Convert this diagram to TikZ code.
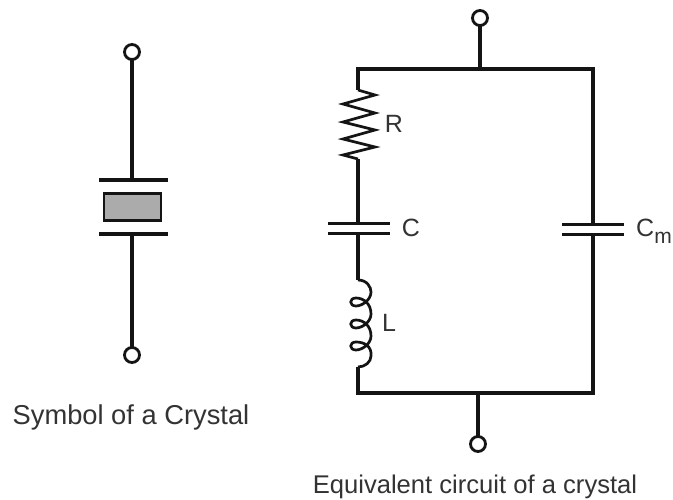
\documentclass[tikz,border=0pt]{standalone}
\usepackage{fontspec}
\setmainfont{Liberation Sans}
\definecolor{ink}{HTML}{141414}
\definecolor{lab}{HTML}{333333}
\tikzset{
  wire/.style={draw=ink,line width=3.2pt},
  thin wire/.style={draw=ink,line width=2.7pt,line join=miter},
  plate/.style={draw=ink,line width=3.4pt},
  term/.style={circle,draw=ink,fill=white,line width=2.8pt,minimum size=15pt,inner sep=0pt,outer sep=0pt},
  lbl/.style={text=lab,font=\fontsize{25}{28}\selectfont,inner sep=0pt},
  captionA/.style={text=lab,font=\fontsize{27.3}{30}\selectfont,inner sep=0pt},
  captionB/.style={text=lab,font=\fontsize{25.6}{30}\selectfont,inner sep=0pt}
}
\begin{document}
\begin{tikzpicture}[x=1pt,y=-1pt]
\useasboundingbox (0,0) rectangle (673,500);
\fill[white] (0,0) rectangle (673,500);
% crystal symbol
\node[term] (t1) at (132,52) {};
\node[term] (t2) at (132,355) {};
\coordinate (p1) at (132,180);
\coordinate (p2) at (132,234);
\draw[wire] (t1) -- (p1);
\draw[wire] (p2) -- (t2);
\draw[plate] (99,180) -- (168,180);
\draw[plate] (99,234) -- (168,234);
\node[draw=ink,fill=black!33,line width=2.6pt,minimum width=57pt,minimum height=27.5pt,inner sep=0pt,outer sep=0pt] (xtal) at (132.5,207) {};
\node[captionA] (cap1) at (131,417) {Symbol of a Crystal};
% equivalent circuit
\node[term] (t3) at (480,18) {};
\node[term] (t4) at (478,444) {};
\coordinate (tj) at (480,69);
\coordinate (bj) at (478,393);
\coordinate (tl) at (358,69);
\coordinate (tr) at (593,69);
\coordinate (bl) at (358,393);
\coordinate (br) at (593,393);
\draw[wire] (t3) -- (tj);
\draw[wire] (bj) -- (t4);
\draw[wire,line cap=rect] (tl) -- (tr);
\draw[wire,line cap=rect] (bl) -- (br);
% left branch
\coordinate (r1) at (358,90);
\coordinate (r2) at (358,159);
\coordinate (c1) at (358,223);
\coordinate (c2) at (358,233);
\coordinate (l1) at (358,280);
\coordinate (l2) at (358,367);
\draw[wire] (tl) -- (r1);
\draw[thin wire] (r1) -- (375,95) -- (343,104) -- (375,113) -- (343,122) -- (375,130) -- (343,139) -- (375,147) -- (343,155) -- (r2);
\draw[wire] (r2) -- (c1);
\draw[plate] (328,223.5) -- (390,223.5);
\draw[plate] (328,233.5) -- (390,233.5);
\draw[wire] (c2) -- (l1);
\draw[thin wire] (l1)
  .. controls (367,280) and (371,287) .. (371,292)
  .. controls (371,300) and (362,306) .. (356,306)
  .. controls (349,306) and (349,298) .. (356,298)
  .. controls (364,298) and (371,304) .. (371,314)
  .. controls (371,322) and (362,328) .. (356,328)
  .. controls (349,328) and (349,320) .. (356,320)
  .. controls (364,320) and (371,326) .. (371,336)
  .. controls (371,344) and (362,350) .. (356,350)
  .. controls (349,350) and (349,342) .. (356,342)
  .. controls (364,342) and (372,346) .. (371,356)
  .. controls (371,362) and (365,367) .. (l2);
\draw[wire] (l2) -- (bl);
% right branch
\coordinate (m1) at (593,224);
\coordinate (m2) at (593,234);
\draw[wire] (tr) -- (m1);
\draw[wire] (m2) -- (br);
\draw[plate] (562,224.5) -- (624,224.5);
\draw[plate] (562,234.5) -- (624,234.5);
% labels
\node[lbl] (lr) at (394,124) {R};
\node[lbl] (lc) at (411,228) {C};
\node[lbl] (ll) at (389,323) {L};
\node[lbl,anchor=base west] (lm) at (636,237) {C\raisebox{-6pt}{\fontsize{21}{21}\selectfont m}};
\node[captionB] (cap2) at (475,487) {Equivalent circuit of a crystal};
\end{tikzpicture}
\end{document}
